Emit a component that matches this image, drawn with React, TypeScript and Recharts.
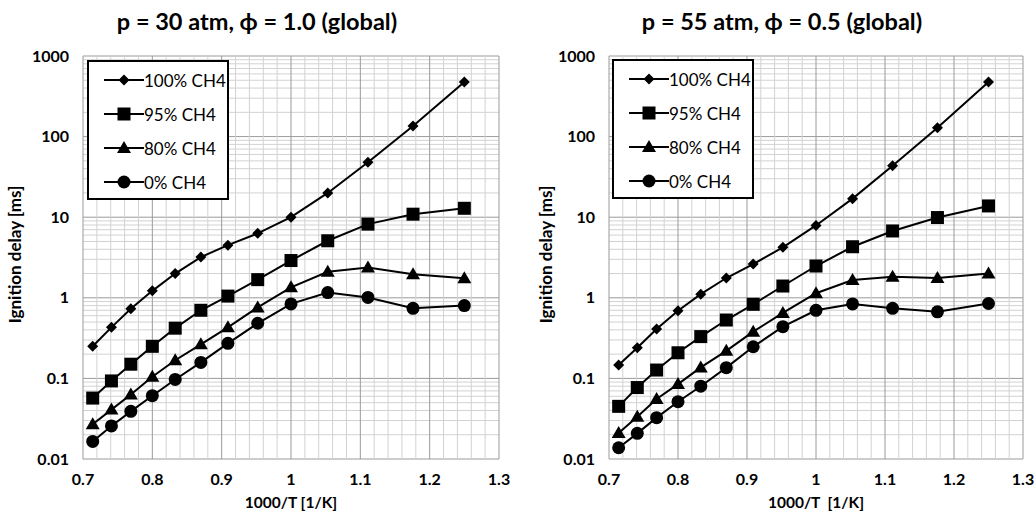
import { CartesianGrid, Label, Legend, Line, LineChart, XAxis, YAxis } from "recharts"

// 1000/T for T = 1400 K ... 800 K in 50 K steps
const invT = [0.714, 0.741, 0.769, 0.8, 0.833, 0.87, 0.909, 0.952, 1.0, 1.053, 1.111, 1.176, 1.25]

// p = 30 atm, phi = 1.0
const p30ch4100 = [0.25, 0.43, 0.73, 1.22, 2.0, 3.2, 4.5, 6.3, 10, 20, 48, 135, 475]
const p30ch495 = [0.057, 0.093, 0.15, 0.25, 0.42, 0.7, 1.05, 1.68, 2.9, 5.1, 8.2, 10.9, 12.9]
const p30ch480 = [0.027, 0.041, 0.063, 0.105, 0.168, 0.265, 0.43, 0.76, 1.35, 2.1, 2.37, 1.96, 1.75]
const p30ch40 = [0.0165, 0.0257, 0.039, 0.061, 0.097, 0.158, 0.272, 0.483, 0.84, 1.16, 1.01, 0.74, 0.8]

// p = 55 atm, phi = 0.5
const p55ch4100 = [0.147, 0.24, 0.41, 0.69, 1.11, 1.76, 2.62, 4.23, 7.9, 17, 43.6, 129, 475]
const p55ch495 = [0.045, 0.077, 0.127, 0.208, 0.33, 0.53, 0.83, 1.4, 2.48, 4.3, 6.75, 9.9, 13.8]
const p55ch480 = [0.021, 0.0335, 0.0555, 0.085, 0.137, 0.22, 0.38, 0.65, 1.14, 1.66, 1.83, 1.76, 2.0]
const p55ch40 = [0.0138, 0.0208, 0.0326, 0.0514, 0.08, 0.136, 0.247, 0.438, 0.7, 0.84, 0.74, 0.67, 0.85]

const seriesNames = ["100% CH4", "95% CH4", "80% CH4", "0% CH4"]
const seriesKeys = ["s100", "s95", "s80", "s0"]

const xTicks = [0.7, 0.8, 0.9, 1, 1.1, 1.2, 1.3]
const yTicks = [0.01, 0.1, 1, 10, 100, 1000]
const xMin = 0.7
const xMax = 1.3
const yMin = 0.01
const yMax = 1000

// grid: every 0.02 on x (major each 0.1), 1..9 per decade on y (major at decades)
const xGrid: { v: number; major: boolean }[] = []
for (let i = 35; i <= 65; i++) xGrid.push({ v: i / 50, major: i % 5 === 0 })
const yGrid: { v: number; major: boolean }[] = []
for (let e = -2; e <= 2; e++) for (let m = 1; m <= 9; m++) yGrid.push({ v: m * Math.pow(10, e), major: m === 1 })
yGrid.push({ v: 1000, major: true })

const font = "Lato, 'Open Sans', sans-serif"

const toRows = (a: number[], b: number[], c: number[], d: number[]) =>
  invT.map((x, i) => ({ x, s100: a[i], s95: b[i], s80: c[i], s0: d[i] }))

const leftData = toRows(p30ch4100, p30ch495, p30ch480, p30ch40)
const rightData = toRows(p55ch4100, p55ch495, p55ch480, p55ch40)

const vGen = ({ xAxis, offset }: any) =>
  xGrid.map((g) =>
    xAxis && typeof xAxis.scale === "function"
      ? xAxis.scale(g.v)
      : offset.left + ((g.v - xMin) / (xMax - xMin)) * offset.width
  )
const hGen = ({ yAxis, offset }: any) =>
  yGrid.map((g) =>
    yAxis && typeof yAxis.scale === "function"
      ? yAxis.scale(g.v)
      : offset.top + offset.height * (1 - (Math.log10(g.v) - Math.log10(yMin)) / (Math.log10(yMax) - Math.log10(yMin)))
  )

const gridLine = (list: { major: boolean }[]) => (p: any) => {
  const major = list[p.index] ? list[p.index].major : true
  return (
    <line
      key={p.key ?? p.index}
      x1={p.x1}
      y1={p.y1}
      x2={p.x2}
      y2={p.y2}
      stroke={major ? "#9a9a9a" : "#d2d2d2"}
      strokeWidth={1}
    />
  )
}

function Marker({ kind, cx, cy }: { kind: string; cx: number; cy: number }) {
  if (kind === "s100") {
    const r = 5.5
    return <polygon points={`${cx},${cy - r} ${cx + r},${cy} ${cx},${cy + r} ${cx - r},${cy}`} fill="#000" />
  }
  if (kind === "s95") {
    return <rect x={cx - 6.5} y={cy - 6.5} width={13} height={13} fill="#000" />
  }
  if (kind === "s80") {
    return <polygon points={`${cx},${cy - 7} ${cx + 7},${cy + 5} ${cx - 7},${cy + 5}`} fill="#000" />
  }
  return <circle cx={cx} cy={cy} r={6.5} fill="#000" />
}

function LegendBox() {
  return (
    <div
      style={{
        boxSizing: "border-box",
        border: "2px solid #000",
        background: "#fff",
        width: 142,
        height: 140,
        paddingTop: 1,
        fontFamily: font,
        fontSize: 17,
        color: "#000",
      }}
    >
      {seriesKeys.map((k, i) => (
        <div key={k} style={{ height: 34, display: "flex", alignItems: "center", paddingLeft: 15 }}>
          <svg width={40} height={16} style={{ display: "block" }}>
            <line x1={0} y1={8} x2={40} y2={8} stroke="#000" strokeWidth={2} />
            <Marker kind={k} cx={20} cy={8} />
          </svg>
          <span style={{ whiteSpace: "pre" }}>{seriesNames[i]}</span>
        </div>
      ))}
    </div>
  )
}

type PanelProps = {
  title: string
  titleX: number
  data: typeof leftData
  yWidth: number
  right: number
  ytitleX: number
  xTitle: string
  legendLeft: number
  legendTop: number
}

const tickStyle = { fill: "#000", fontSize: 16, fontWeight: 700, fontFamily: font }

function Panel({ title, titleX, data, yWidth, right, ytitleX, xTitle, legendLeft, legendTop }: PanelProps) {
  return (
    <div style={{ position: "relative", width: 518, height: 512 }}>
      <div
        style={{
          position: "absolute",
          left: titleX - 200,
          width: 400,
          top: 7,
          textAlign: "center",
          fontFamily: font,
          fontWeight: 700,
          fontSize: 23.5,
          color: "#000",
          whiteSpace: "pre",
        }}
      >
        {title}
      </div>
      <LineChart width={518} height={512} data={data} margin={{ top: 56, right, bottom: 0, left: 0 }}>
        <CartesianGrid
          fill="none"
          verticalCoordinatesGenerator={vGen}
          horizontalCoordinatesGenerator={hGen}
          vertical={gridLine(xGrid)}
          horizontal={gridLine(yGrid)}
        />
        <XAxis
          dataKey="x"
          type="number"
          domain={[xMin, xMax]}
          ticks={xTicks}
          allowDataOverflow
          tickLine={false}
          axisLine={false}
          tickSize={0}
          tickMargin={15}
          height={53}
          tick={tickStyle}
        >
          <Label
            content={({ viewBox }: any) => (
              <text
                x={viewBox.x + viewBox.width / 2}
                y={viewBox.y + 49}
                textAnchor="middle"
                fill="#000"
                style={{ fontFamily: font, fontWeight: 700, fontSize: 15.5, whiteSpace: "pre" }}
              >
                {xTitle}
              </text>
            )}
          />
        </XAxis>
        <YAxis
          type="number"
          scale="log"
          domain={[yMin, yMax]}
          ticks={yTicks}
          allowDataOverflow
          tickLine={false}
          axisLine={false}
          tickSize={0}
          tickMargin={14}
          width={yWidth}
          tickFormatter={(v: number) => String(v)}
          tick={tickStyle}
        >
          <Label
            content={({ viewBox }: any) => {
              const cy = viewBox.y + viewBox.height / 2 - 3
              return (
                <text
                  x={ytitleX}
                  y={cy}
                  transform={`rotate(-90 ${ytitleX} ${cy})`}
                  textAnchor="middle"
                  dominantBaseline="central"
                  fill="#000"
                  style={{ fontFamily: font, fontWeight: 700, fontSize: 17 }}
                >
                  Ignition delay [ms]
                </text>
              )
            }}
          />
        </YAxis>
        <Legend
          layout="vertical"
          align="center"
          verticalAlign="middle"
          wrapperStyle={{ left: legendLeft, top: legendTop, width: 142, height: 140 }}
          content={() => <LegendBox />}
        />
        {seriesKeys.map((k, i) => (
          <Line
            key={k}
            name={seriesNames[i]}
            dataKey={k}
            type="linear"
            stroke="#000"
            strokeWidth={2}
            isAnimationActive={false}
            dot={(p: any) => <Marker key={`${k}-${p.index}`} kind={k} cx={p.cx} cy={p.cy} />}
            activeDot={false}
          />
        ))}
      </LineChart>
    </div>
  )
}

export default function App() {
  return (
    <div style={{ position: "absolute", left: 0, top: 0, width: 1036, height: 512, background: "#fff", display: "flex" }}>
      <Panel
        title="p = 30 atm, ϕ = 1.0 (global)"
        titleX={257}
        data={leftData}
        yWidth={83}
        right={19}
        ytitleX={14}
        xTitle="1000/T [1/K]"
        legendLeft={87}
        legendTop={60}
      />
      <Panel
        title="p = 55 atm, ϕ = 0.5 (global)"
        titleX={264}
        data={rightData}
        yWidth={91}
        right={13}
        ytitleX={27}
        xTitle="1000/T  [1/K]"
        legendLeft={94}
        legendTop={59}
      />
    </div>
  )
}
